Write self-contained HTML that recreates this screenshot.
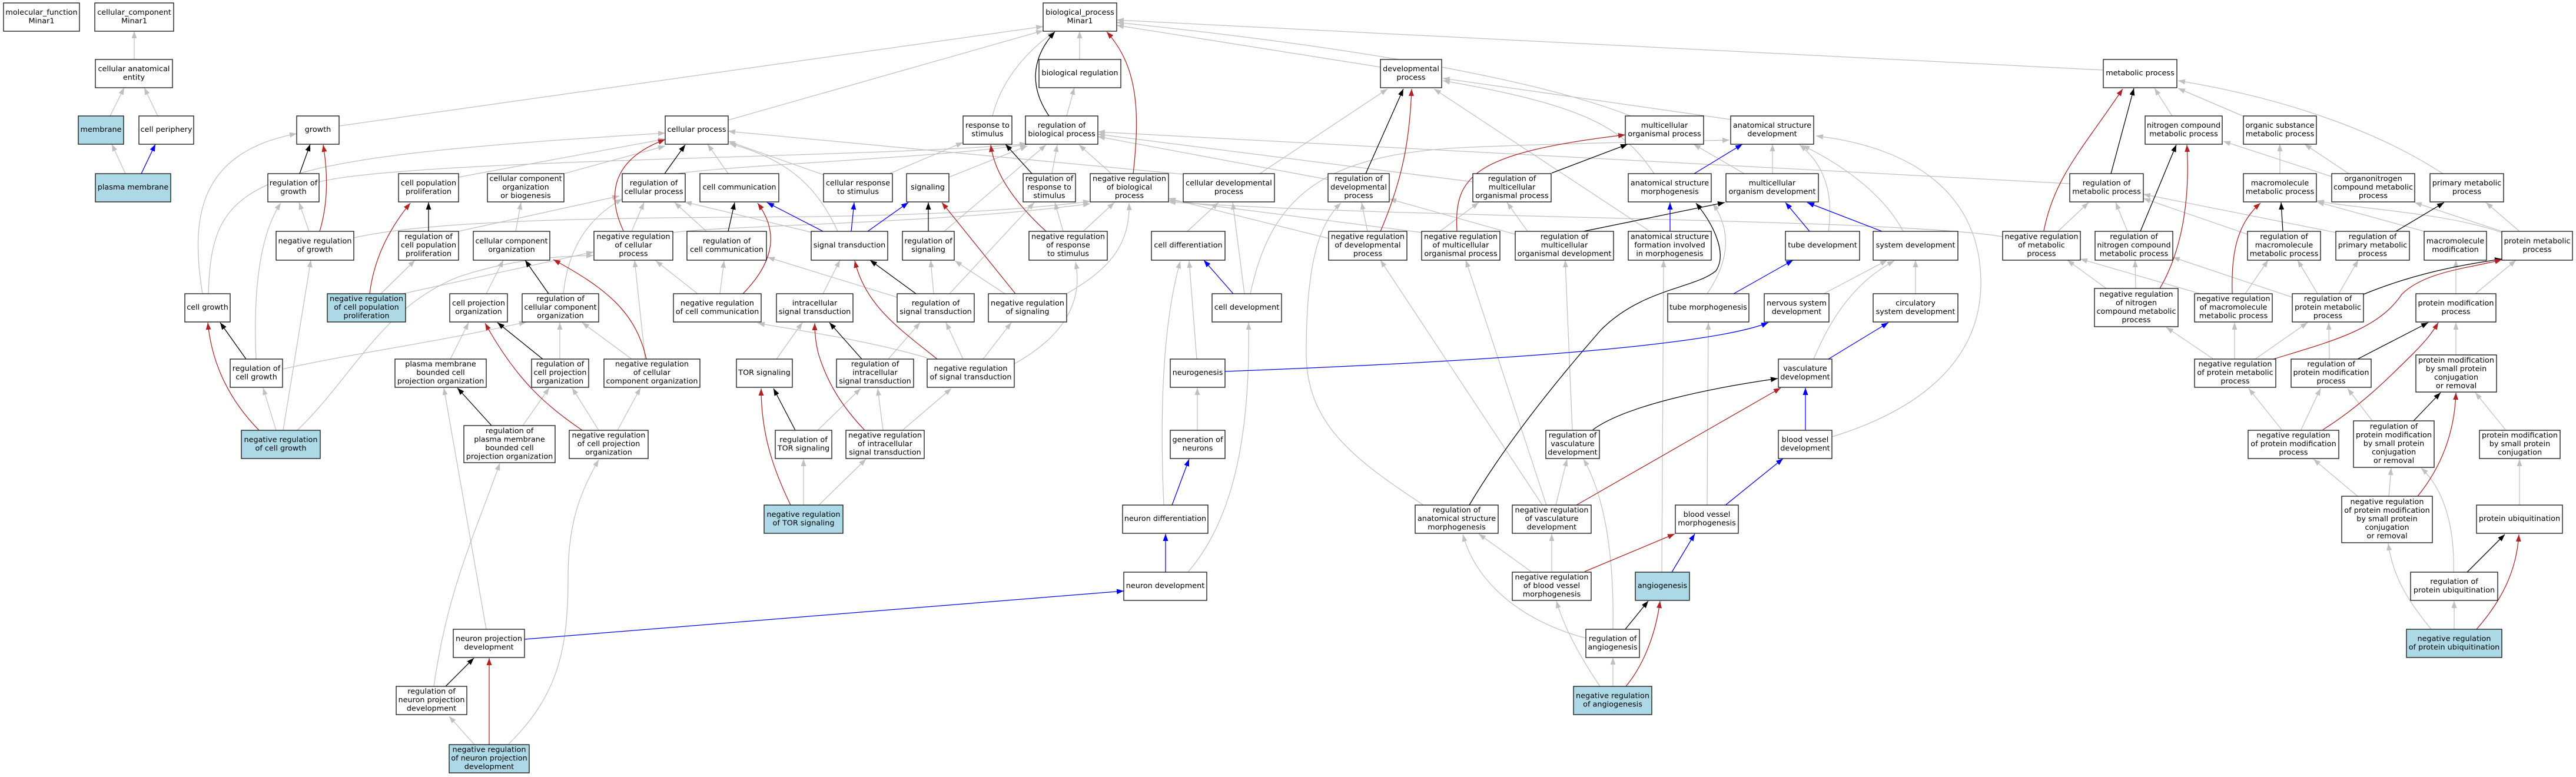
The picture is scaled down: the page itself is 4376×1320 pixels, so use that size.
<!DOCTYPE html>
<html><head><meta charset="utf-8">
<style>
html,body{margin:0;padding:0;background:#fff;}
svg{display:block;}
text{font-family:"DejaVu Sans","Liberation Sans",sans-serif;font-size:12.8px;text-anchor:middle;fill:#000;transform:translate(0px,-1.4px);}
rect{fill:#fff;stroke:#111;stroke-width:1.3;}
rect.b{fill:#add8e6;}
path{fill:none;stroke-width:1.25;}
.g path{stroke:#c0c0c0;marker-end:url(#mg);}
.k path{stroke:#000;marker-end:url(#mk);}
.r path{stroke:#b22222;marker-end:url(#mr);}
.u path{stroke:#0000ff;marker-end:url(#mb);}
</style></head><body>
<svg width="4376" height="1320" viewBox="0 0 4376 1320" xmlns="http://www.w3.org/2000/svg">
<defs>
<marker id="mg" markerWidth="12" markerHeight="9" refX="12" refY="4.5" orient="auto" markerUnits="userSpaceOnUse"><path d="M0,0L12,4.5L0,9z" style="fill:#c0c0c0;stroke:none"/></marker>
<marker id="mk" markerWidth="12" markerHeight="9" refX="12" refY="4.5" orient="auto" markerUnits="userSpaceOnUse"><path d="M0,0L12,4.5L0,9z" style="fill:#000;stroke:none"/></marker>
<marker id="mr" markerWidth="12" markerHeight="9" refX="12" refY="4.5" orient="auto" markerUnits="userSpaceOnUse"><path d="M0,0L12,4.5L0,9z" style="fill:#b22222;stroke:none"/></marker>
<marker id="mb" markerWidth="12" markerHeight="9" refX="12" refY="4.5" orient="auto" markerUnits="userSpaceOnUse"><path d="M0,0L12,4.5L0,9z" style="fill:#0000ff;stroke:none"/></marker>
</defs>
<rect x="0" y="0" width="4376" height="1320" style="fill:#fff;stroke:none"/>

<g class="g">
<path d="M228,101L228,53"/>
<path d="M187,197L211,149"/>
<path d="M268,197L245,149"/>
<path d="M213,295L190,245"/>
<path d="M576,214L1772,45"/>
<path d="M344,499C325,380 330,260 504,227"/>
<path d="M354,499C360,300 420,270 1130,226"/>
<path d="M542,309C700,270 1500,268 1744,244"/>
<path d="M1150,295C1250,280 1600,268 1746,245"/>
<path d="M779,301L1130,236"/>
<path d="M958,295L1130,248"/>
<path d="M1237,295L1202,245"/>
<path d="M1423,393C1390,320 1340,270 1239,244"/>
<path d="M1399,297L1237,240"/>
<path d="M1511,295L1636,242"/>
<path d="M2010,296L1237,223"/>
<path d="M1237,204L1772,52"/>
<path d="M1686,197C1700,140 1740,90 1791,54"/>
<path d="M1834,101L1834,53"/>
<path d="M1812,197L1825,149"/>
<path d="M2345,114L1897,43"/>
<path d="M2770,197C2650,150 2400,90 1897,38"/>
<path d="M3573,119L1897,34"/>
<path d="M2140,295L2357,151"/>
<path d="M2940,203L2451,133"/>
<path d="M2810,295C2760,220 2700,180 2451,137"/>
<path d="M2803,393L2436,151"/>
<path d="M2963,295L2877,245"/>
<path d="M3011,295L3011,245"/>
<path d="M3106,393C3115,330 3100,280 3057,246"/>
<path d="M3233,393C3200,330 3130,280 3062,247"/>
<path d="M3112,742C3250,700 3365,620 3365,480C3365,330 3250,250 3085,231"/>
<path d="M2124,499C2160,330 2250,260 2500,250C2700,242 2850,240 2938,238"/>
<path d="M2256,305L1865,232"/>
<path d="M2502,309L1865,228"/>
<path d="M3516,312L1865,224"/>
<path d="M1787,295L1796,246"/>
<path d="M1888,295L1833,246"/>
<path d="M1612,301L1745,248"/>
<path d="M1604,393L1777,246"/>
<path d="M1806,393L1792,344"/>
<path d="M1840,393L1893,344"/>
<path d="M1810,500C1880,460 1920,420 1918,345"/>
<path d="M601,404C750,370 1100,370 1380,368C1600,365 1750,355 1852,342"/>
<path d="M1143,395C1250,382 1600,380 1852,346"/>
<path d="M2257,405L1985,337"/>
<path d="M2415,395L1985,340"/>
<path d="M3402,402C3200,370 2400,372 1985,343"/>
<path d="M779,393L1052,333"/>
<path d="M1073,393L1094,344"/>
<path d="M1200,393L1146,344"/>
<path d="M957,499C965,420 1000,370 1057,338"/>
<path d="M1380,395L1163,343"/>
<path d="M1613,499L1757,344"/>
<path d="M1185,499L1114,443"/>
<path d="M1223,499L1230,443"/>
<path d="M1524,505L1304,437"/>
<path d="M1398,499L1427,442"/>
<path d="M1586,499L1581,442"/>
<path d="M1707,499L1622,443"/>
<path d="M1723,618C1810,570 1840,510 1827,445"/>
<path d="M2017,393L2070,344"/>
<path d="M2114,499L2094,344"/>
<path d="M2033,610L2020,443"/>
<path d="M1977,858C1970,700 1975,550 2005,444"/>
<path d="M2018,972C2080,900 2125,780 2121,548"/>
<path d="M2034,731L2034,659"/>
<path d="M2323,393L2313,344"/>
<path d="M2574,398L2360,338"/>
<path d="M2418,858C2300,780 2219,720 2219,600C2219,450 2240,380 2278,345"/>
<path d="M2446,393L2512,344"/>
<path d="M2595,393L2560,344"/>
<path d="M2900,499C2940,440 2940,390 2910,346"/>
<path d="M3098,499L3206,442"/>
<path d="M3254,499L3254,442"/>
<path d="M3081,610C3110,540 3150,480 3218,443"/>
<path d="M2671,731L2659,442"/>
<path d="M2620,858L2345,442"/>
<path d="M2627,858L2490,442"/>
<path d="M2823,972L2826,442"/>
<path d="M2900,859L2902,548"/>
<path d="M2643,858L2662,780"/>
<path d="M2601,971L2512,907"/>
<path d="M2636,971L2636,907"/>
<path d="M2694,1084C2600,1060 2510,1000 2485,908"/>
<path d="M2740,1069C2742,960 2730,850 2690,780"/>
<path d="M2740,1166L2740,1117"/>
<path d="M2718,1166C2680,1110 2655,1060 2644,1021"/>
<path d="M3690,197L3660,150"/>
<path d="M3810,197L3700,150"/>
<path d="M4150,295C4050,230 3900,170 3700,137"/>
<path d="M3961,300L3777,240"/>
<path d="M3873,295L3873,245"/>
<path d="M3990,295L3915,245"/>
<path d="M3496,393L3548,344"/>
<path d="M3614,393L3594,344"/>
<path d="M3818,398L3641,337"/>
<path d="M3968,395L3641,330"/>
<path d="M4250,395C4150,360 4000,355 3936,341"/>
<path d="M4118,393L3936,343"/>
<path d="M4280,393L4223,344"/>
<path d="M4250,393L4102,344"/>
<path d="M3578,490L3512,442"/>
<path d="M3738,499L3534,440"/>
<path d="M3628,490L3627,442"/>
<path d="M3894,505L3691,437"/>
<path d="M3814,499L3853,442"/>
<path d="M3937,499L3903,442"/>
<path d="M3973,499L4006,442"/>
<path d="M4205,499L4274,442"/>
<path d="M4172,499L4172,442"/>
<path d="M3760,610L3680,556"/>
<path d="M3796,610L3796,548"/>
<path d="M3831,610L3920,548"/>
<path d="M3957,610L3956,548"/>
<path d="M4172,603L4172,548"/>
<path d="M3876,730L3820,660"/>
<path d="M3909,730L3942,660"/>
<path d="M4030,715L3988,660"/>
<path d="M4257,731L4205,667"/>
<path d="M4005,843L3930,780"/>
<path d="M4058,843L4062,795"/>
<path d="M4130,1069C4090,1020 4065,980 4057,923"/>
<path d="M4168,972C4170,890 4150,830 4113,795"/>
<path d="M4280,859L4280,780"/>
<path d="M4169,1069L4169,1021"/>
<path d="M525,393L508,344"/>
<path d="M435,610C430,500 440,400 477,345"/>
<path d="M647,499L705,442"/>
<path d="M684,499L1008,428"/>
<path d="M876,393L885,344"/>
<path d="M826,499L855,442"/>
<path d="M469,731L447,659"/>
<path d="M481,731L528,442"/>
<path d="M505,731C600,640 650,520 780,470C870,440 950,435 1008,434"/>
<path d="M480,627C600,600 750,580 894,547"/>
<path d="M765,610L796,548"/>
<path d="M951,610L951,548"/>
<path d="M1073,610L989,548"/>
<path d="M1096,610L1078,442"/>
<path d="M888,723L933,659"/>
<path d="M1017,731L972,659"/>
<path d="M1049,731L1088,659"/>
<path d="M826,1069L754,659"/>
<path d="M737,1166C760,1000 810,900 849,787"/>
<path d="M806,1265L763,1217"/>
<path d="M863,1265C950,1180 965,1100 965,980C965,880 990,830 1017,781"/>
<path d="M1319,610L1363,548"/>
<path d="M1509,610L1563,548"/>
<path d="M1636,610L1607,548"/>
<path d="M1670,610L1718,548"/>
<path d="M1575,608C1480,580 1380,565 1287,549"/>
<path d="M1389,731L1462,660"/>
<path d="M1500,731L1491,660"/>
<path d="M1533,731L1616,660"/>
<path d="M1365,858L1365,780"/>
<path d="M1391,858L1471,780"/>
</g>

<g class="k">
<path d="M509,295L527,245"/>
<path d="M1129,295L1164,246"/>
<path d="M1782,197C1750,150 1750,100 1792,54"/>
<path d="M2320,295L2384,151"/>
<path d="M2636,294L2765,245"/>
<path d="M1753,295L1708,245"/>
<path d="M1237,393L1248,344"/>
<path d="M1577,393L1577,344"/>
<path d="M1556,499L1478,442"/>
<path d="M2690,393L2930,344"/>
<path d="M2496,858C2560,750 2650,640 2720,560C2790,490 2880,490 2915,460C2935,430 2910,380 2881,345"/>
<path d="M2706,730C2760,690 2900,660 3020,643"/>
<path d="M2761,1069L2800,1021"/>
<path d="M3586,295L3625,150"/>
<path d="M3636,393L3697,246"/>
<path d="M3878,393L3875,344"/>
<path d="M4070,393L4152,344"/>
<path d="M4015,500C4100,465 4180,450 4250,440"/>
<path d="M4005,610L4125,548"/>
<path d="M4100,715L4146,667"/>
<path d="M4191,972L4255,908"/>
<path d="M728,393L728,344"/>
<path d="M932,499L892,442"/>
<path d="M418,610L374,548"/>
<path d="M922,610L845,548"/>
<path d="M835,723L777,659"/>
<path d="M757,1166L805,1118"/>
<path d="M1464,610L1409,548"/>
<path d="M1351,731L1314,660"/>
</g>

<g class="r">
<path d="M543,393C556,350 558,300 549,246"/>
<path d="M1059,392C1030,330 1040,270 1130,237"/>
<path d="M1925,295C1938,180 1930,110 1880,54"/>
<path d="M2345,393C2385,300 2395,230 2398,151"/>
<path d="M2475,393C2470,300 2500,260 2761,229"/>
<path d="M1777,393C1730,350 1690,300 1683,246"/>
<path d="M1262,499C1320,440 1320,390 1287,345"/>
<path d="M1725,499L1600,344"/>
<path d="M1592,610C1530,560 1470,520 1452,443"/>
<path d="M2678,858L3025,659"/>
<path d="M2692,971L2845,907"/>
<path d="M2762,1166C2800,1120 2815,1060 2820,1021"/>
<path d="M3472,392C3490,300 3540,250 3606,151"/>
<path d="M3669,490C3710,420 3720,330 3715,246"/>
<path d="M3792,499C3790,430 3800,380 3840,345"/>
<path d="M3862,610C3960,580 4040,560 4080,500C4120,460 4200,455 4250,441"/>
<path d="M3946,730C4010,690 4060,640 4100,600C4125,575 4135,560 4142,548"/>
<path d="M4107,843C4150,790 4170,730 4172,667"/>
<path d="M4207,1069C4250,1020 4275,970 4279,908"/>
<path d="M628,499C635,440 660,390 697,345"/>
<path d="M1098,610C1080,530 1030,490 940,441"/>
<path d="M440,731C390,680 360,620 353,548"/>
<path d="M989,731C930,690 880,650 824,549"/>
<path d="M831,1265L831,1118"/>
<path d="M1469,731C1430,690 1405,650 1390,600C1385,580 1384,560 1384,549"/>
<path d="M1343,858C1315,800 1293,740 1293,660"/>
</g>

<g class="u">
<path d="M240,295L264,245"/>
<path d="M1398,393L1303,344"/>
<path d="M1446,393L1451,344"/>
<path d="M1474,393L1543,344"/>
<path d="M2095,499L2045,442"/>
<path d="M1991,858L2020,780"/>
<path d="M1980,972L1980,907"/>
<path d="M2081,631C2500,615 2900,590 3004,548"/>
<path d="M891,1086L1909,1004"/>
<path d="M2878,295L2960,245"/>
<path d="M2837,393L2837,344"/>
<path d="M2945,499L3046,442"/>
<path d="M3074,393L3033,344"/>
<path d="M3197,393L3070,344"/>
<path d="M3106,610L3208,548"/>
<path d="M3067,731L3067,659"/>
<path d="M2930,859L3029,779"/>
<path d="M2840,972L2879,907"/>
</g>

<!-- NODES -->
<rect x="6" y="5" width="129" height="48"/><text><tspan x="70.5" y="26.25">molecular_function</tspan><tspan x="70.5" y="40.75">Minar1</tspan></text>
<rect x="161" y="5" width="134" height="48"/><text><tspan x="228" y="26.25">cellular_component</tspan><tspan x="228" y="40.75">Minar1</tspan></text>
<rect x="1772" y="5" width="125" height="48"/><text><tspan x="1834.5" y="26.25">biological_process</tspan><tspan x="1834.5" y="40.75">Minar1</tspan></text>

<rect x="162" y="101" width="131" height="48"/><text><tspan x="227.5" y="122.25">cellular anatomical</tspan><tspan x="227.5" y="136.75">entity</tspan></text>
<rect x="1765" y="101" width="139" height="48"/><text><tspan x="1834.5" y="129.5">biological regulation</tspan></text>
<rect x="2345" y="101" width="104" height="48"/><text><tspan x="2397" y="122.25">developmental</tspan><tspan x="2397" y="136.75">process</tspan></text>
<rect x="3573" y="101" width="125" height="48"/><text><tspan x="3635.5" y="129.5">metabolic process</tspan></text>

<rect class="b" x="133" y="197" width="77" height="48"/><text><tspan x="171.5" y="225.5">membrane</tspan></text>
<rect x="236" y="197" width="93" height="48"/><text><tspan x="282.5" y="225.5">cell periphery</tspan></text>
<rect x="504" y="197" width="72" height="48"/><text><tspan x="540" y="225.5">growth</tspan></text>
<rect x="1130" y="197" width="107" height="48"/><text><tspan x="1183.5" y="225.5">cellular process</tspan></text>
<rect x="1636" y="197" width="83" height="48"/><text><tspan x="1677.5" y="218.25">response to</tspan><tspan x="1677.5" y="232.75">stimulus</tspan></text>
<rect x="1742" y="197" width="123" height="48"/><text><tspan x="1803.5" y="218.25">regulation of</tspan><tspan x="1803.5" y="232.75">biological process</tspan></text>
<rect x="2761" y="197" width="133" height="48"/><text><tspan x="2827.5" y="218.25">multicellular</tspan><tspan x="2827.5" y="232.75">organismal process</tspan></text>
<rect x="2940" y="197" width="141" height="48"/><text><tspan x="3010.5" y="218.25">anatomical structure</tspan><tspan x="3010.5" y="232.75">development</tspan></text>
<rect x="3644" y="197" width="131" height="48"/><text><tspan x="3709.5" y="218.25">nitrogen compound</tspan><tspan x="3709.5" y="232.75">metabolic process</tspan></text>
<rect x="3811" y="197" width="124" height="48"/><text><tspan x="3873" y="218.25">organic substance</tspan><tspan x="3873" y="232.75">metabolic process</tspan></text>

<rect class="b" x="162" y="295" width="128" height="48"/><text><tspan x="226" y="323.5">plasma membrane</tspan></text>
<rect x="455" y="295" width="87" height="48"/><text><tspan x="498.5" y="316.25">regulation of</tspan><tspan x="498.5" y="330.75">growth</tspan></text>
<rect x="677" y="295" width="102" height="48"/><text><tspan x="728" y="316.25">cell population</tspan><tspan x="728" y="330.75">proliferation</tspan></text>
<rect x="828" y="295" width="130" height="48"/><text><tspan x="893" y="309">cellular component</tspan><tspan x="893" y="323.5">organization</tspan><tspan x="893" y="338">or biogenesis</tspan></text>
<rect x="1057" y="295" width="107" height="48"/><text><tspan x="1110.5" y="316.25">regulation of</tspan><tspan x="1110.5" y="330.75">cellular process</tspan></text>
<rect x="1189" y="295" width="134" height="48"/><text><tspan x="1256" y="323.5">cell communication</tspan></text>
<rect x="1399" y="295" width="117" height="48"/><text><tspan x="1457.5" y="316.25">cellular response</tspan><tspan x="1457.5" y="330.75">to stimulus</tspan></text>
<rect x="1540" y="295" width="72" height="48"/><text><tspan x="1576" y="323.5">signaling</tspan></text>
<rect x="1738" y="295" width="89" height="48"/><text><tspan x="1782.5" y="309">regulation of</tspan><tspan x="1782.5" y="323.5">response to</tspan><tspan x="1782.5" y="338">stimulus</tspan></text>
<rect x="1852" y="295" width="133" height="48"/><text><tspan x="1918.5" y="309">negative regulation</tspan><tspan x="1918.5" y="323.5">of biological</tspan><tspan x="1918.5" y="338">process</tspan></text>
<rect x="2010" y="295" width="155" height="48"/><text><tspan x="2087.5" y="316.25">cellular developmental</tspan><tspan x="2087.5" y="330.75">process</tspan></text>
<rect x="2256" y="295" width="104" height="48"/><text><tspan x="2308" y="309">regulation of</tspan><tspan x="2308" y="323.5">developmental</tspan><tspan x="2308" y="338">process</tspan></text>
<rect x="2502" y="295" width="133" height="48"/><text><tspan x="2568.5" y="309">regulation of</tspan><tspan x="2568.5" y="323.5">multicellular</tspan><tspan x="2568.5" y="338">organismal process</tspan></text>
<rect x="2766" y="295" width="141" height="48"/><text><tspan x="2836.5" y="316.25">anatomical structure</tspan><tspan x="2836.5" y="330.75">morphogenesis</tspan></text>
<rect x="2932" y="295" width="157" height="48"/><text><tspan x="3010.5" y="316.25">multicellular</tspan><tspan x="3010.5" y="330.75">organism development</tspan></text>
<rect x="3516" y="295" width="125" height="48"/><text><tspan x="3578.5" y="316.25">regulation of</tspan><tspan x="3578.5" y="330.75">metabolic process</tspan></text>
<rect x="3811" y="295" width="124" height="48"/><text><tspan x="3873" y="316.25">macromolecule</tspan><tspan x="3873" y="330.75">metabolic process</tspan></text>
<rect x="3961" y="295" width="141" height="48"/><text><tspan x="4031.5" y="309">organonitrogen</tspan><tspan x="4031.5" y="323.5">compound metabolic</tspan><tspan x="4031.5" y="338">process</tspan></text>
<rect x="4128" y="295" width="125" height="48"/><text><tspan x="4190.5" y="316.25">primary metabolic</tspan><tspan x="4190.5" y="330.75">process</tspan></text>

<rect x="469" y="393" width="132" height="49"/><text><tspan x="535" y="414.75">negative regulation</tspan><tspan x="535" y="429.25">of growth</tspan></text>
<rect x="677" y="393" width="102" height="49"/><text><tspan x="728" y="407.5">regulation of</tspan><tspan x="728" y="422">cell population</tspan><tspan x="728" y="436.5">proliferation</tspan></text>
<rect x="804" y="393" width="130" height="49"/><text><tspan x="869" y="414.75">cellular component</tspan><tspan x="869" y="429.25">organization</tspan></text>
<rect x="1009" y="393" width="134" height="49"/><text><tspan x="1076" y="407.5">negative regulation</tspan><tspan x="1076" y="422">of cellular</tspan><tspan x="1076" y="436.5">process</tspan></text>
<rect x="1167" y="393" width="135" height="49"/><text><tspan x="1234.5" y="414.75">regulation of</tspan><tspan x="1234.5" y="429.25">cell communication</tspan></text>
<rect x="1378" y="393" width="130" height="49"/><text><tspan x="1443" y="422">signal transduction</tspan></text>
<rect x="1533" y="393" width="88" height="49"/><text><tspan x="1577" y="414.75">regulation of</tspan><tspan x="1577" y="429.25">signaling</tspan></text>
<rect x="1748" y="393" width="133" height="49"/><text><tspan x="1814.5" y="407.5">negative regulation</tspan><tspan x="1814.5" y="422">of response</tspan><tspan x="1814.5" y="436.5">to stimulus</tspan></text>
<rect x="1956" y="393" width="125" height="49"/><text><tspan x="2018.5" y="422">cell differentiation</tspan></text>
<rect x="2257" y="393" width="133" height="49"/><text><tspan x="2323.5" y="407.5">negative regulation</tspan><tspan x="2323.5" y="422">of developmental</tspan><tspan x="2323.5" y="436.5">process</tspan></text>
<rect x="2415" y="393" width="133" height="49"/><text><tspan x="2481.5" y="407.5">negative regulation</tspan><tspan x="2481.5" y="422">of multicellular</tspan><tspan x="2481.5" y="436.5">organismal process</tspan></text>
<rect x="2574" y="393" width="167" height="49"/><text><tspan x="2657.5" y="407.5">regulation of</tspan><tspan x="2657.5" y="422">multicellular</tspan><tspan x="2657.5" y="436.5">organismal development</tspan></text>
<rect x="2766" y="393" width="141" height="49"/><text><tspan x="2836.5" y="407.5">anatomical structure</tspan><tspan x="2836.5" y="422">formation involved</tspan><tspan x="2836.5" y="436.5">in morphogenesis</tspan></text>
<rect x="3033" y="393" width="126" height="49"/><text><tspan x="3096" y="422">tube development</tspan></text>
<rect x="3182" y="393" width="144" height="49"/><text><tspan x="3254" y="422">system development</tspan></text>
<rect x="3402" y="393" width="132" height="49"/><text><tspan x="3468" y="407.5">negative regulation</tspan><tspan x="3468" y="422">of metabolic</tspan><tspan x="3468" y="436.5">process</tspan></text>
<rect x="3559" y="393" width="132" height="49"/><text><tspan x="3625" y="407.5">regulation of</tspan><tspan x="3625" y="422">nitrogen compound</tspan><tspan x="3625" y="436.5">metabolic process</tspan></text>
<rect x="3818" y="393" width="124" height="49"/><text><tspan x="3880" y="407.5">regulation of</tspan><tspan x="3880" y="422">macromolecule</tspan><tspan x="3880" y="436.5">metabolic process</tspan></text>
<rect x="3968" y="393" width="125" height="49"/><text><tspan x="4030.5" y="407.5">regulation of</tspan><tspan x="4030.5" y="422">primary metabolic</tspan><tspan x="4030.5" y="436.5">process</tspan></text>
<rect x="4118" y="393" width="106" height="49"/><text><tspan x="4171" y="414.75">macromolecule</tspan><tspan x="4171" y="429.25">modification</tspan></text>
<rect x="4250" y="393" width="120" height="49"/><text><tspan x="4310" y="414.75">protein metabolic</tspan><tspan x="4310" y="429.25">process</tspan></text>

<rect x="314" y="499" width="77" height="48"/><text><tspan x="352.5" y="527.5">cell growth</tspan></text>
<rect class="b" x="556" y="499" width="133" height="48"/><text><tspan x="622.5" y="513">negative regulation</tspan><tspan x="622.5" y="527.5">of cell population</tspan><tspan x="622.5" y="542">proliferation</tspan></text>
<rect x="764" y="499" width="98" height="48"/><text><tspan x="813" y="520.25">cell projection</tspan><tspan x="813" y="534.75">organization</tspan></text>
<rect x="887" y="499" width="130" height="48"/><text><tspan x="952" y="513">regulation of</tspan><tspan x="952" y="527.5">cellular component</tspan><tspan x="952" y="542">organization</tspan></text>
<rect x="1144" y="499" width="149" height="48"/><text><tspan x="1218.5" y="520.25">negative regulation</tspan><tspan x="1218.5" y="534.75">of cell communication</tspan></text>
<rect x="1319" y="499" width="130" height="48"/><text><tspan x="1384" y="520.25">intracellular</tspan><tspan x="1384" y="534.75">signal transduction</tspan></text>
<rect x="1524" y="499" width="131" height="48"/><text><tspan x="1589.5" y="520.25">regulation of</tspan><tspan x="1589.5" y="534.75">signal transduction</tspan></text>
<rect x="1679" y="499" width="133" height="48"/><text><tspan x="1745.5" y="520.25">negative regulation</tspan><tspan x="1745.5" y="534.75">of signaling</tspan></text>
<rect x="2059" y="499" width="118" height="48"/><text><tspan x="2118" y="527.5">cell development</tspan></text>
<rect x="2833" y="499" width="138" height="48"/><text><tspan x="2902" y="527.5">tube morphogenesis</tspan></text>
<rect x="2997" y="499" width="110" height="48"/><text><tspan x="3052" y="520.25">nervous system</tspan><tspan x="3052" y="534.75">development</tspan></text>
<rect x="3182" y="499" width="144" height="48"/><text><tspan x="3254" y="520.25">circulatory</tspan><tspan x="3254" y="534.75">system development</tspan></text>
<rect x="3558" y="490" width="142" height="65"/><text><tspan x="3629" y="505.25">negative regulation</tspan><tspan x="3629" y="519.75">of nitrogen</tspan><tspan x="3629" y="534.25">compound metabolic</tspan><tspan x="3629" y="548.75">process</tspan></text>
<rect x="3728" y="499" width="132" height="48"/><text><tspan x="3794" y="513">negative regulation</tspan><tspan x="3794" y="527.5">of macromolecule</tspan><tspan x="3794" y="542">metabolic process</tspan></text>
<rect x="3894" y="499" width="121" height="48"/><text><tspan x="3954.5" y="513">regulation of</tspan><tspan x="3954.5" y="527.5">protein metabolic</tspan><tspan x="3954.5" y="542">process</tspan></text>
<rect x="4104" y="499" width="136" height="48"/><text><tspan x="4172" y="520.25">protein modification</tspan><tspan x="4172" y="534.75">process</tspan></text>

<rect x="391" y="610" width="89" height="48"/><text><tspan x="435.5" y="631.25">regulation of</tspan><tspan x="435.5" y="645.75">cell growth</tspan></text>
<rect x="671" y="610" width="155" height="48"/><text><tspan x="748.5" y="624">plasma membrane</tspan><tspan x="748.5" y="638.5">bounded cell</tspan><tspan x="748.5" y="653">projection organization</tspan></text>
<rect x="903" y="610" width="97" height="48"/><text><tspan x="951.5" y="624">regulation of</tspan><tspan x="951.5" y="638.5">cell projection</tspan><tspan x="951.5" y="653">organization</tspan></text>
<rect x="1026" y="610" width="163" height="48"/><text><tspan x="1107.5" y="624">negative regulation</tspan><tspan x="1107.5" y="638.5">of cellular</tspan><tspan x="1107.5" y="653">component organization</tspan></text>
<rect x="1251" y="610" width="95" height="48"/><text><tspan x="1298.5" y="638.5">TOR signaling</tspan></text>
<rect x="1421" y="610" width="131" height="48"/><text><tspan x="1486.5" y="624">regulation of</tspan><tspan x="1486.5" y="638.5">intracellular</tspan><tspan x="1486.5" y="653">signal transduction</tspan></text>
<rect x="1575" y="610" width="148" height="48"/><text><tspan x="1649" y="631.25">negative regulation</tspan><tspan x="1649" y="645.75">of signal transduction</tspan></text>
<rect x="1988" y="610" width="93" height="48"/><text><tspan x="2034.5" y="638.5">neurogenesis</tspan></text>
<rect x="3021" y="610" width="91" height="48"/><text><tspan x="3066.5" y="631.25">vasculature</tspan><tspan x="3066.5" y="645.75">development</tspan></text>
<rect x="3728" y="610" width="138" height="48"/><text><tspan x="3797" y="624">negative regulation</tspan><tspan x="3797" y="638.5">of protein metabolic</tspan><tspan x="3797" y="653">process</tspan></text>
<rect x="3892" y="610" width="136" height="48"/><text><tspan x="3960" y="624">regulation of</tspan><tspan x="3960" y="638.5">protein modification</tspan><tspan x="3960" y="653">process</tspan></text>
<rect x="4104" y="603" width="137" height="63"/><text><tspan x="4172.5" y="617.25">protein modification</tspan><tspan x="4172.5" y="631.75">by small protein</tspan><tspan x="4172.5" y="646.25">conjugation</tspan><tspan x="4172.5" y="660.75">or removal</tspan></text>

<rect class="b" x="410" y="731" width="134" height="48"/><text><tspan x="477" y="752.25">negative regulation</tspan><tspan x="477" y="766.75">of cell growth</tspan></text>
<rect x="788" y="723" width="155" height="63"/><text><tspan x="865.5" y="737.25">regulation of</tspan><tspan x="865.5" y="751.75">plasma membrane</tspan><tspan x="865.5" y="766.25">bounded cell</tspan><tspan x="865.5" y="780.75">projection organization</tspan></text>
<rect x="967" y="731" width="134" height="48"/><text><tspan x="1034" y="745">negative regulation</tspan><tspan x="1034" y="759.5">of cell projection</tspan><tspan x="1034" y="774">organization</tspan></text>
<rect x="1317" y="731" width="96" height="48"/><text><tspan x="1365" y="752.25">regulation of</tspan><tspan x="1365" y="766.75">TOR signaling</tspan></text>
<rect x="1437" y="731" width="133" height="48"/><text><tspan x="1503.5" y="745">negative regulation</tspan><tspan x="1503.5" y="759.5">of intracellular</tspan><tspan x="1503.5" y="774">signal transduction</tspan></text>
<rect x="1988" y="731" width="93" height="48"/><text><tspan x="2034.5" y="752.25">generation of</tspan><tspan x="2034.5" y="766.75">neurons</tspan></text>
<rect x="2626" y="731" width="91" height="48"/><text><tspan x="2671.5" y="745">regulation of</tspan><tspan x="2671.5" y="759.5">vasculature</tspan><tspan x="2671.5" y="774">development</tspan></text>
<rect x="3021" y="731" width="91" height="48"/><text><tspan x="3066.5" y="752.25">blood vessel</tspan><tspan x="3066.5" y="766.75">development</tspan></text>
<rect x="3819" y="731" width="154" height="48"/><text><tspan x="3896" y="745">negative regulation</tspan><tspan x="3896" y="759.5">of protein modification</tspan><tspan x="3896" y="774">process</tspan></text>
<rect x="3998" y="715" width="137" height="79"/><text><tspan x="4066.5" y="730">regulation of</tspan><tspan x="4066.5" y="744.5">protein modification</tspan><tspan x="4066.5" y="759">by small protein</tspan><tspan x="4066.5" y="773.5">conjugation</tspan><tspan x="4066.5" y="788">or removal</tspan></text>
<rect x="4212" y="731" width="137" height="48"/><text><tspan x="4280.5" y="745">protein modification</tspan><tspan x="4280.5" y="759.5">by small protein</tspan><tspan x="4280.5" y="774">conjugation</tspan></text>

<rect class="b" x="1298" y="858" width="134" height="48"/><text><tspan x="1365" y="879.25">negative regulation</tspan><tspan x="1365" y="893.75">of TOR signaling</tspan></text>
<rect x="1907" y="858" width="145" height="48"/><text><tspan x="1979.5" y="886.5">neuron differentiation</tspan></text>
<rect x="2404" y="858" width="141" height="48"/><text><tspan x="2474.5" y="872">regulation of</tspan><tspan x="2474.5" y="886.5">anatomical structure</tspan><tspan x="2474.5" y="901">morphogenesis</tspan></text>
<rect x="2569" y="858" width="134" height="48"/><text><tspan x="2636" y="872">negative regulation</tspan><tspan x="2636" y="886.5">of vasculature</tspan><tspan x="2636" y="901">development</tspan></text>
<rect x="2846" y="858" width="107" height="48"/><text><tspan x="2899.5" y="879.25">blood vessel</tspan><tspan x="2899.5" y="893.75">morphogenesis</tspan></text>
<rect x="3978" y="843" width="154" height="79"/><text><tspan x="4055" y="858">negative regulation</tspan><tspan x="4055" y="872.5">of protein modification</tspan><tspan x="4055" y="887">by small protein</tspan><tspan x="4055" y="901.5">conjugation</tspan><tspan x="4055" y="916">or removal</tspan></text>
<rect x="4207" y="858" width="146" height="48"/><text><tspan x="4280" y="886.5">protein ubiquitination</tspan></text>

<rect x="1909" y="972" width="141" height="48"/><text><tspan x="1979.5" y="1000.5">neuron development</tspan></text>
<rect x="2569" y="972" width="134" height="48"/><text><tspan x="2636" y="986">negative regulation</tspan><tspan x="2636" y="1000.5">of blood vessel</tspan><tspan x="2636" y="1015">morphogenesis</tspan></text>
<rect class="b" x="2778" y="972" width="92" height="48"/><text><tspan x="2824" y="1000.5">angiogenesis</tspan></text>
<rect x="4095" y="972" width="148" height="48"/><text><tspan x="4169" y="993.25">regulation of</tspan><tspan x="4169" y="1007.75">protein ubiquitination</tspan></text>

<rect x="770" y="1069" width="121" height="48"/><text><tspan x="830.5" y="1090.25">neuron projection</tspan><tspan x="830.5" y="1104.75">development</tspan></text>
<rect x="2694" y="1069" width="91" height="48"/><text><tspan x="2739.5" y="1090.25">regulation of</tspan><tspan x="2739.5" y="1104.75">angiogenesis</tspan></text>
<rect class="b" x="4088" y="1069" width="162" height="48"/><text><tspan x="4169" y="1090.25">negative regulation</tspan><tspan x="4169" y="1104.75">of protein ubiquitination</tspan></text>

<rect x="673" y="1166" width="120" height="48"/><text><tspan x="733" y="1180">regulation of</tspan><tspan x="733" y="1194.5">neuron projection</tspan><tspan x="733" y="1209">development</tspan></text>
<rect class="b" x="2673" y="1166" width="133" height="48"/><text><tspan x="2739.5" y="1187.25">negative regulation</tspan><tspan x="2739.5" y="1201.75">of angiogenesis</tspan></text>

<rect class="b" x="763" y="1265" width="136" height="48"/><text><tspan x="831" y="1279">negative regulation</tspan><tspan x="831" y="1293.5">of neuron projection</tspan><tspan x="831" y="1308">development</tspan></text>
</svg>
</body></html>
